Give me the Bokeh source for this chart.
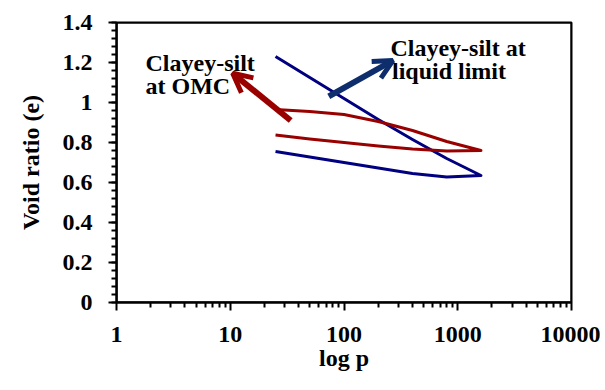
from bokeh.plotting import figure
from bokeh.models import (FixedTicker, Label, Arrow, OpenHead, ColumnDataSource,
                          Whisker)
from bokeh.embed import file_html
from bokeh.resources import INLINE

# ---- data ----
pressure_load = [25, 50, 100, 200, 400, 800, 1600]
pressure_unload = [1600, 800, 400, 200, 100, 50, 25]

ll_load_e = [1.23, 1.125, 1.02, 0.915, 0.815, 0.72, 0.635]
ll_unload_e = [0.635, 0.628, 0.645, 0.672, 0.700, 0.727, 0.755]

omc_load_e = [0.965, 0.955, 0.940, 0.905, 0.860, 0.805, 0.760]
omc_unload_e = [0.760, 0.757, 0.767, 0.782, 0.800, 0.817, 0.837]

x_ticks = [1, 10, 100, 1000, 10000]
x_tick_labels = ["1", "10", "100", "1000", "10000"]
y_ticks = [0, 0.2, 0.4, 0.6, 0.8, 1.0, 1.2, 1.4]
y_tick_labels = ["0", "0.2", "0.4", "0.6", "0.8", "1", "1.2", "1.4"]

# annotation anchors (data coords)
omc_text = ["Clayey-silt", "at OMC"]
omc_text_x = [1.80, 1.80]
omc_text_y = [1.20, 1.085]
ll_text = ["Clayey-silt at", "liquid limit"]
ll_text_x = [256, 264]
ll_text_y = [1.275, 1.16]
omc_arrow = [34, 0.91, 10.5, 1.146]
ll_arrow = [73.5, 1.031, 269, 1.21]

X_MIN, X_MAX = 1, 10000
Y_MIN, Y_MAX = 0, 1.4

BLUE = "#000080"
RED = "#990000"
ARROW_BLUE = "#0d2d6c"
FONT = "Liberation Serif"

p = figure(width=600, height=388, x_axis_type="log",
           x_range=(X_MIN, X_MAX), y_range=(Y_MIN, Y_MAX),
           output_backend="svg", toolbar_location=None,
           min_border_left=116, min_border_right=29,
           min_border_top=22, min_border_bottom=86)

p.xgrid.grid_line_color = None
p.ygrid.grid_line_color = None
p.outline_line_color = "black"
p.outline_line_width = 2

minor_x = [m * d for d in [1, 10, 100, 1000] for m in range(2, 10)]
p.xaxis.ticker = FixedTicker(ticks=x_ticks, minor_ticks=minor_x)
p.xaxis.major_label_overrides = {t: l for t, l in zip(x_ticks, x_tick_labels)}
minor_y = [round(i * 0.04, 2) for i in range(0, 36)]
p.yaxis.ticker = FixedTicker(ticks=y_ticks, minor_ticks=minor_y)
p.yaxis.major_label_overrides = {t: l for t, l in zip(y_ticks, y_tick_labels)}

for ax in (p.xaxis[0], p.yaxis[0]):
    ax.axis_line_width = 2
    ax.major_tick_line_width = 2
    ax.minor_tick_line_width = 2
    ax.major_tick_in = 0
    ax.minor_tick_in = 0
    ax.major_tick_out = 8
    ax.minor_tick_out = 5
    ax.major_label_text_font = FONT
    ax.major_label_text_font_style = "bold"
    ax.major_label_text_font_size = "24px"
    ax.major_label_text_color = "black"
    ax.axis_label_text_font = FONT
    ax.axis_label_text_font_style = "bold"
    ax.axis_label_text_font_size = "24px"
    ax.axis_label_text_color = "black"

p.xaxis.axis_label = "log p"
p.yaxis.axis_label = "Void ratio (e)"
p.xaxis.major_label_standoff = 16
p.xaxis.axis_label_standoff = 0
p.yaxis.major_label_standoff = 16
p.yaxis.axis_label_standoff = 16

# frame edges along the range limits
for xs, ys, xe, ye in [(X_MIN, Y_MIN, X_MAX, Y_MIN), (X_MIN, Y_MAX, X_MAX, Y_MAX),
                       (X_MIN, Y_MIN, X_MIN, Y_MAX), (X_MAX, Y_MIN, X_MAX, Y_MAX)]:
    p.add_layout(Arrow(end=None, x_start=xs, y_start=ys, x_end=xe, y_end=ye,
                       line_color="black", line_width=2))

# tick marks following the tick lists
X_MAJ_LEN, X_MIN_LEN = 0.04, 0.025          # y-data units below the axis
Y_MAJ_FAC, Y_MIN_FAC = 0.8505, 0.9038       # log-x factors left of the axis
xt_src = ColumnDataSource(dict(
    base=x_ticks + minor_x,
    lower=[Y_MIN - X_MAJ_LEN] * len(x_ticks) + [Y_MIN - X_MIN_LEN] * len(minor_x),
    upper=[Y_MIN] * (len(x_ticks) + len(minor_x))))
yt_src = ColumnDataSource(dict(
    base=y_ticks + minor_y,
    lower=[X_MIN * Y_MAJ_FAC] * len(y_ticks) + [X_MIN * Y_MIN_FAC] * len(minor_y),
    upper=[X_MIN] * (len(y_ticks) + len(minor_y))))
p.add_layout(Whisker(source=xt_src, base="base", lower="lower", upper="upper",
                     dimension="height", lower_head=None, upper_head=None,
                     line_color="black", line_width=2))
p.add_layout(Whisker(source=yt_src, base="base", lower="lower", upper="upper",
                     dimension="width", lower_head=None, upper_head=None,
                     line_color="black", line_width=2))

ll_src = ColumnDataSource(dict(x=pressure_load + pressure_unload[1:],
                               y=ll_load_e + ll_unload_e[1:]))
omc_src = ColumnDataSource(dict(x=pressure_load + pressure_unload[1:],
                                y=omc_load_e + omc_unload_e[1:]))
p.line("x", "y", source=ll_src, line_color=BLUE, line_width=3, line_join="round")
p.line("x", "y", source=omc_src, line_color=RED, line_width=3, line_join="round")

for txt, xs, ys in [(omc_text, omc_text_x, omc_text_y), (ll_text, ll_text_x, ll_text_y)]:
    for t, x, y in zip(txt, xs, ys):
        p.add_layout(Label(x=x, y=y, text=t, text_font=FONT, text_font_style="bold",
                           text_font_size="24px", text_color="black",
                           text_baseline="alphabetic", text_align="left"))

p.add_layout(Arrow(end=OpenHead(line_color=RED, line_width=5, size=19),
                   x_start=omc_arrow[0], y_start=omc_arrow[1],
                   x_end=omc_arrow[2], y_end=omc_arrow[3],
                   line_color=RED, line_width=6))
p.add_layout(Arrow(end=OpenHead(line_color=ARROW_BLUE, line_width=5, size=19),
                   x_start=ll_arrow[0], y_start=ll_arrow[1],
                   x_end=ll_arrow[2], y_end=ll_arrow[3],
                   line_color=ARROW_BLUE, line_width=6))

open("out.html", "w").write(file_html(p, INLINE))
